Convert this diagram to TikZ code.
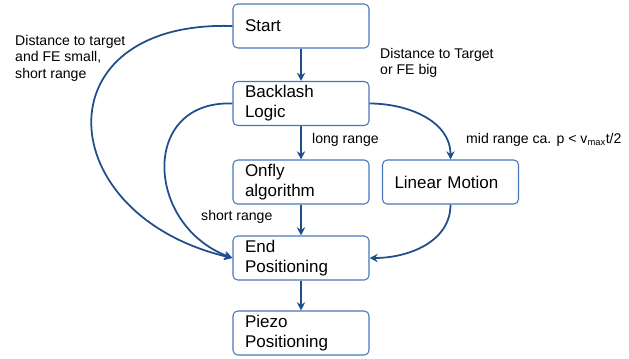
\documentclass[tikz,border=0pt]{standalone}
\usepackage{fontspec}
\setmainfont{Liberation Sans}
\usepackage{tikz}
\usetikzlibrary{arrows.meta, positioning}

\definecolor{linie}{RGB}{31,78,140}
\definecolor{rand}{RGB}{70,118,184}

\begin{document}
\begin{tikzpicture}[x=0.03cm, y=-0.03cm,
	kasten/.style={draw=rand, line width=0.9pt, rounded corners=4pt, minimum width=4.08cm, minimum height=1.32cm, text width=3.36cm, inner xsep=0.36cm, align=left, font=\fontsize{14.5}{17}\selectfont},
	pfeil/.style={draw=linie, line width=1.5pt, -{Stealth[length=7pt,width=7pt]}},
	notiz/.style={font=\fontsize{12}{14.2}\selectfont, align=left, anchor=west, inner sep=0pt}]
			\useasboundingbox (0,0) rectangle (629,358);
			
			% Kaesten
			\node[kasten] (start) at (301,26) {Start};
			\node[kasten] (backlash) at (301,103.5) {Backlash\\Logic};
			\node[kasten] (onfly) at (301,182) {Onfly\\algorithm};
			\node[kasten] (linear) at (450.5,182) {Linear Motion};
			\node[kasten] (endpos) at (301,258) {End\\Positioning};
			\node[kasten] (piezo) at (301,333) {Piezo\\Positioning};
			
			% gerade Pfeile
			\draw[pfeil] (start) -- (backlash);
			\draw[pfeil] (backlash) -- (onfly);
			\draw[pfeil] (onfly) -- (endpos);
			\draw[pfeil] (endpos) -- (piezo);
			
			% gebogene Pfeile
			\draw[pfeil] (start.west) .. controls (40,20) and (50,215) .. (endpos.west);
			\draw[pfeil] (backlash.west) .. controls (140,100) and (145,225) .. (endpos.west);
			\draw[pfeil] (backlash.east) to[out=0, in=90] (linear.north);
			\draw[pfeil] (linear.south) to[out=-90, in=0] (endpos.east);
			
			% Beschriftung
			\node[notiz] (lblklein) at (15,58) {Distance to target\\and FE small,\\short range};
			\node[notiz] (lblgross) at (380,63) {Distance to Target\\or FE big};
			\node[notiz] (lbllang) at (312,140) {long range};
			\node[notiz] (lblmitte) at (466,140) {mid range ca. p < v\textsubscript{max}t/2};
			\node[notiz] (lblkurz) at (201,217) {short range};
		\end{tikzpicture}
\end{document}
